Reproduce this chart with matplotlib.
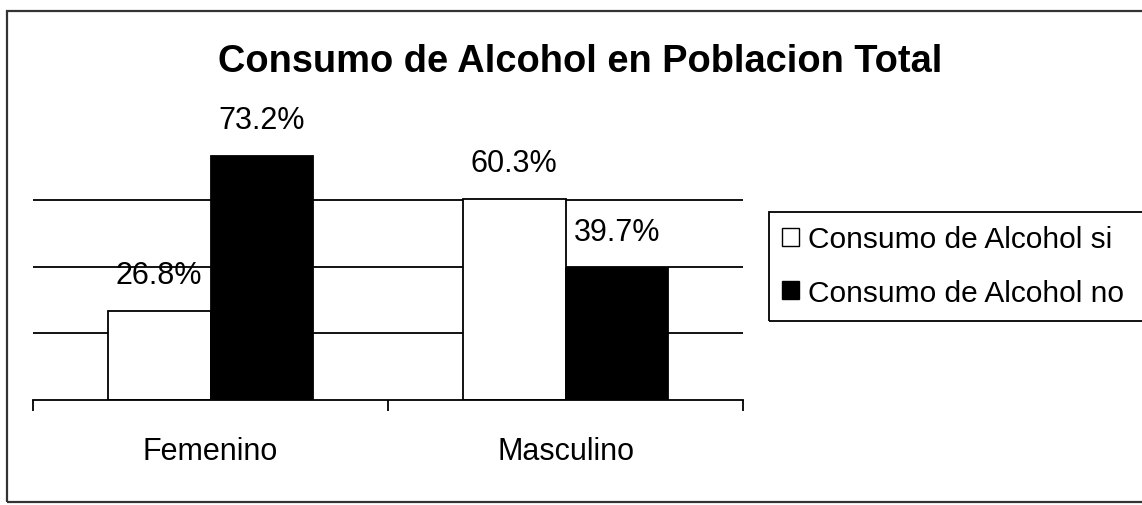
import matplotlib
matplotlib.use("Agg")
import matplotlib.pyplot as plt
from matplotlib.patches import Patch, Rectangle
import numpy as np

# Data
categories = ["Femenino", "Masculino"]
series_names = ["Consumo de Alcohol si", "Consumo de Alcohol no"]
consumo_si = [26.8, 60.3]
consumo_no = [73.2, 39.7]
gridline_values = [20, 40, 60]
title = "Consumo de Alcohol en Poblacion Total"

W, H = 1142, 506
plt.rcParams["font.family"] = ["Liberation Sans", "DejaVu Sans"]

fig = plt.figure(figsize=(W / 100, H / 100), dpi=100)
fig.patch.set_facecolor("white")

def fx(px):
    return px / W

def fy(py):
    return 1 - py / H

# Outer chart border (right side runs past the canvas edge)
fig.add_artist(Rectangle((fx(7), fy(503)), fx(1160) - fx(7), fy(12) - fy(503),
                         transform=fig.transFigure, fill=False,
                         edgecolor="#333333", linewidth=1.6, zorder=0))

ax = fig.add_axes([fx(33), fy(401), fx(743) - fx(33), fy(134) - fy(401)])
ax.set_facecolor("none")

x = np.arange(len(categories))
bw = 0.29
off = 0.145
text_size = 22.0

for g in gridline_values:
    ax.axhline(g, color="black", linewidth=1.3, zorder=1)

bars_si = ax.bar(x - off, consumo_si, width=bw, color="white",
                 edgecolor="black", linewidth=1.3, zorder=2)
bars_no = ax.bar(x + off, consumo_no, width=bw, color="black",
                 edgecolor="black", linewidth=1.3, zorder=2)

for bars, vals in ((bars_si, consumo_si), (bars_no, consumo_no)):
    for b, v in zip(bars, vals):
        ax.annotate(f"{v:.1f}%", xy=(b.get_x() + b.get_width() / 2, v),
                    xytext=(0, 25.5), textcoords="offset points",
                    ha="center", va="center", fontsize=text_size,
                    color="black", zorder=3)

ax.set_xlim(-0.5, len(categories) - 0.5)
ax.set_ylim(0, 80)

for s in ("left", "right", "top"):
    ax.spines[s].set_visible(False)
ax.spines["bottom"].set_linewidth(1.3)
ax.spines["bottom"].set_color("black")

ax.set_yticks([])
ax.set_xticks(x)
ax.set_xticklabels(categories, fontsize=text_size)
ax.tick_params(axis="x", which="major", length=0, pad=26)
ax.set_xticks(np.arange(len(categories) + 1) - 0.5, minor=True)
ax.tick_params(axis="x", which="minor", length=8, width=1.3,
               direction="out", color="black")

fig.text(fx(580), fy(72), title, ha="center", va="baseline",
         fontsize=27.4, fontweight="bold", color="black")

# Legend frame (extends past the right edge), legend entries on top
fig.add_artist(Rectangle((fx(769), fy(322)), fx(1170) - fx(769), fy(213) - fy(322),
                         transform=fig.transFigure, fill=False,
                         edgecolor="black", linewidth=1.3, zorder=1))
handles = [Patch(facecolor="white", edgecolor="black", linewidth=1.0),
           Patch(facecolor="black", edgecolor="black", linewidth=1.0)]
fig.legend(handles, series_names, loc="upper left",
           bbox_to_anchor=(fx(769), fy(213)), bbox_transform=fig.transFigure,
           frameon=False, fontsize=21.5, borderpad=0.45,
           handlelength=0.55, handleheight=0.55, handletextpad=0.3,
           labelspacing=0.85, borderaxespad=0)

fig.savefig("out.png", dpi=100, facecolor="white")
